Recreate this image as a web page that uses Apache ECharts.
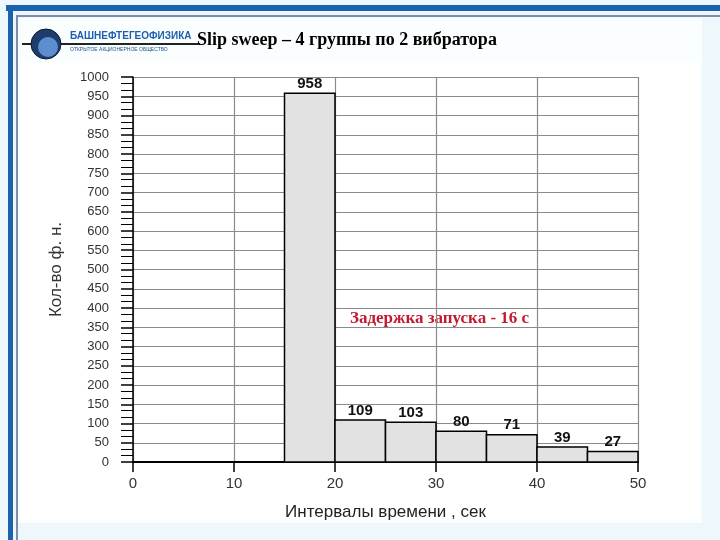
<!DOCTYPE html>
<html><head><meta charset="utf-8">
<script src="https://cdn.jsdelivr.net/npm/echarts@6/dist/echarts.min.js"></script>
<style>html,body{margin:0;padding:0;background:#eef7fb;}#c{width:720px;height:540px;}</style>
</head><body><div id="c"></div>
<script>
const binStarts = [15, 20, 25, 30, 35, 40, 45];
const binEnds   = [20, 25, 30, 35, 40, 45, 50];
const counts    = [958, 109, 103, 80, 71, 39, 27];
const titleText = 'Slip sweep – 4 группы по 2 вибратора';
const noteText = 'Задержка запуска - 16 с';
const xName = 'Интервалы времени , сек';
const yName = 'Кол-во ф. н.';

const data = binStarts.map((s, i) => [s, binEnds[i], counts[i]]);

const chart = echarts.init(document.getElementById('c'), null, {renderer: 'canvas'});
chart.setOption({
  backgroundColor: '#eef7fb',
  animation: false,
  graphic: [
    {type: 'rect', shape: {x: 0, y: 0, width: 720, height: 540}, style: {fill: '#eef7fb'}, z: -10},
    {type: 'rect', shape: {x: 18, y: 18, width: 684, height: 505}, style: {fill: '#fbfeff'}, z: -9},
    {type: 'rect', shape: {x: 22, y: 62, width: 678, height: 458}, style: {fill: '#ffffff'}, z: -8},
    {type: 'rect', shape: {x: 6, y: 5, width: 714, height: 6}, style: {fill: '#1c63ad'}, z: -5},
    {type: 'rect', shape: {x: 8, y: 5, width: 5, height: 535}, style: {fill: '#1c63ad'}, z: -5},
    {type: 'rect', shape: {x: 16, y: 15, width: 704, height: 2}, style: {fill: '#7d8fa6'}, z: -5},
    {type: 'rect', shape: {x: 16, y: 15, width: 2, height: 525}, style: {fill: '#7d8fa6'}, z: -5},
    {type: 'line', shape: {x1: 22, y1: 44, x2: 200, y2: 44}, style: {stroke: '#222', lineWidth: 2}},
    {type: 'circle', shape: {cx: 46, cy: 44, r: 15}, style: {fill: '#1e3d6e', stroke: '#0b1a33', lineWidth: 1}},
    {type: 'circle', shape: {cx: 48, cy: 47, r: 10}, style: {fill: '#5d8fd0'}},
    {type: 'text', left: 70, top: 31, style: {text: 'БАШНЕФТЕГЕОФИЗИКА', fill: '#1f5fb0', font: 'bold 10px Arial'}},
    {type: 'text', left: 70, top: 47, style: {text: 'ОТКРЫТОЕ АКЦИОНЕРНОЕ ОБЩЕСТВО', fill: '#1f4f8f', font: '5px Arial'}},
    {type: 'text', left: 197, top: 31, style: {text: titleText, fill: '#000', font: 'bold 18px "Liberation Serif", "Times New Roman", serif'}},
    {type: 'text', left: 350, top: 310, style: {text: noteText, fill: '#c41a30', font: 'bold 17px "Liberation Serif", "Times New Roman", serif'}}
  ],
  grid: {left: 133, right: 82, top: 77, bottom: 78, containLabel: false},
  xAxis: {
    type: 'value', min: 0, max: 50, interval: 10,
    name: xName, nameLocation: 'middle', nameGap: 42,
    nameTextStyle: {fontFamily: 'Arial', fontSize: 17, color: '#222'},
    axisLine: {show: true, onZero: false, lineStyle: {color: '#000', width: 2}},
    axisTick: {show: true, length: 10, lineStyle: {color: '#000', width: 1.5}},
    axisLabel: {fontFamily: 'Arial', fontSize: 15, color: '#333', margin: 14},
    splitLine: {show: true, lineStyle: {color: '#8a8a8a', width: 1.2}}
  },
  yAxis: {
    type: 'value', min: 0, max: 1000, interval: 50,
    name: yName, nameLocation: 'middle', nameGap: 68, nameRotate: 90,
    nameTextStyle: {fontFamily: 'Arial', fontSize: 17, color: '#333'},
    axisLine: {show: true, lineStyle: {color: '#000', width: 1.5}},
    axisTick: {show: true, length: 12, lineStyle: {color: '#000', width: 1.5}},
    minorTick: {show: true, splitNumber: 3, length: 12, lineStyle: {color: '#000', width: 1}},
    axisLabel: {fontFamily: 'Arial', fontSize: 13, color: '#333', margin: 24, formatter: function (v) { return String(v); }},
    splitLine: {show: true, lineStyle: {color: '#8a8a8a', width: 1.2}}
  },
  series: [{
    type: 'custom',
    data: data,
    encode: {x: [0, 1], y: 2},
    renderItem: function (params, api) {
      const s = api.value(0), e = api.value(1), v = api.value(2);
      const p0 = api.coord([s, v]);
      const p1 = api.coord([e, 0]);
      return {
        type: 'group',
        children: [
          {type: 'rect', shape: {x: p0[0], y: p0[1], width: p1[0] - p0[0], height: p1[1] - p0[1]},
           style: {fill: '#e2e2e2', stroke: '#000', lineWidth: 1.5}},
          {type: 'text', x: (p0[0] + p1[0]) / 2, y: p0[1] - 2,
           style: {text: String(v), fill: '#111', font: 'bold 15px Arial', align: 'center', verticalAlign: 'bottom'}}
        ]
      };
    },
    z: 5
  }]
});
</script></body></html>
